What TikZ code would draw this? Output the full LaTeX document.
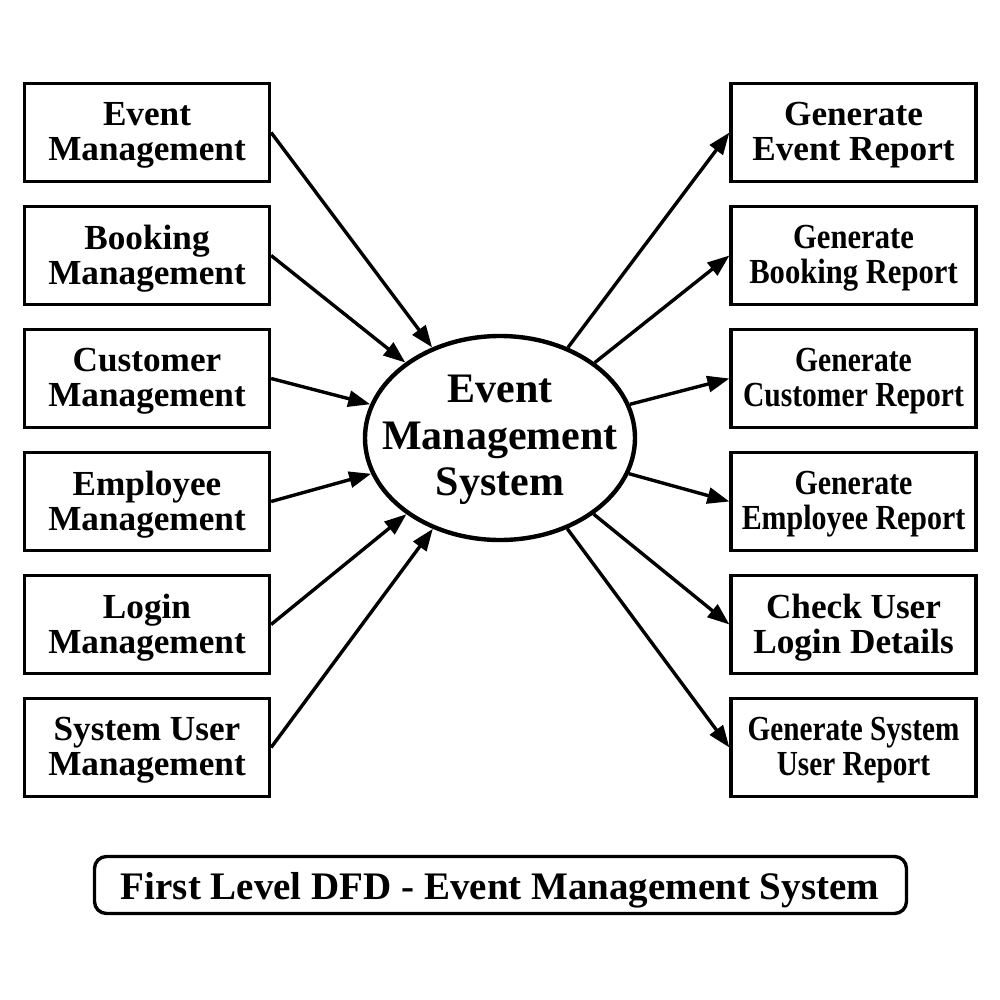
\documentclass[tikz,border=0pt]{standalone}
\usepackage{fontspec}
\usepackage{graphicx}
\setmainfont{Liberation Serif}
\usetikzlibrary{shapes.geometric,arrows.meta}
\newcommand\dn[1]{\raisebox{-1.5pt}[\height][\depth]{#1}}
\newcommand\cn[2]{\raisebox{-1.5pt}[\height][\depth]{\scalebox{#1}[1]{#2}}}
\begin{document}
\begin{tikzpicture}[x=0.5pt,y=-0.5pt,
  box/.style={draw,line width=1.6pt,minimum width=122.5pt,minimum height=49pt,inner sep=0pt,align=center,font=\bfseries\fontsize{17.6}{17.5}\selectfont},
  arr/.style={line width=1.7pt,-{Triangle[length=11pt,width=8pt]}}]
\useasboundingbox (0,0) rectangle (1000,1000);
% left boxes
\node[box] (l1) at (147,132.5) {\dn{Event}\\\dn{Management}};
\node[box] (l2) at (147,255.5) {\dn{Booking}\\\dn{Management}};
\node[box] (l3) at (147,378.5) {\dn{Customer}\\\dn{Management}};
\node[box] (l4) at (147,501.5) {\dn{Employee}\\\dn{Management}};
\node[box] (l5) at (147,624.5) {\dn{Login}\\\dn{Management}};
\node[box] (l6) at (147,747.5) {\dn{System User}\\\dn{Management}};
% right boxes
\node[box] (r1) at (853.5,132.5) {\dn{Generate}\\\dn{Event Report}};
\node[box] (r2) at (853.5,255.5) {\cn{0.87}{Generate}\\\cn{0.87}{Booking Report}};
\node[box] (r3) at (853.5,378.5) {\cn{0.84}{Generate}\\\cn{0.84}{Customer Report}};
\node[box] (r4) at (853.5,501.5) {\cn{0.85}{Generate}\\\cn{0.85}{Employee Report}};
\node[box] (r5) at (853.5,624.5) {\dn{Check User}\\\dn{Login Details}};
\node[box] (r6) at (853.5,747.5) {\cn{0.83}{Generate System}\\\cn{0.83}{User Report}};
% central process
\node[ellipse,draw,line width=2.2pt,minimum width=135pt,minimum height=102pt,inner sep=0pt] (ems) at (500,438) {};
\node[align=center,inner sep=0pt,font=\bfseries\fontsize{21}{23.3}\selectfont] (emst) at (500,440) {Event\\Management\\System};
% connectors
\foreach \n in {l1,l2,l3,l4,l5,l6} \draw[arr] (\n.east) -- (ems);
\foreach \n in {r1,r2,r3,r4,r5,r6} \draw[arr] (ems) -- (\n.west);
% title
\node[draw,line width=1.7pt,rounded corners=6pt,minimum width=406pt,minimum height=28.5pt,inner sep=0pt] (tbox) at (500.5,885) {};
\node[anchor=base,inner sep=0pt,font=\bfseries\fontsize{19.5}{20}\selectfont] (ttext) at (500,899) {First Level DFD - Event Management System};
\end{tikzpicture}
\end{document}
